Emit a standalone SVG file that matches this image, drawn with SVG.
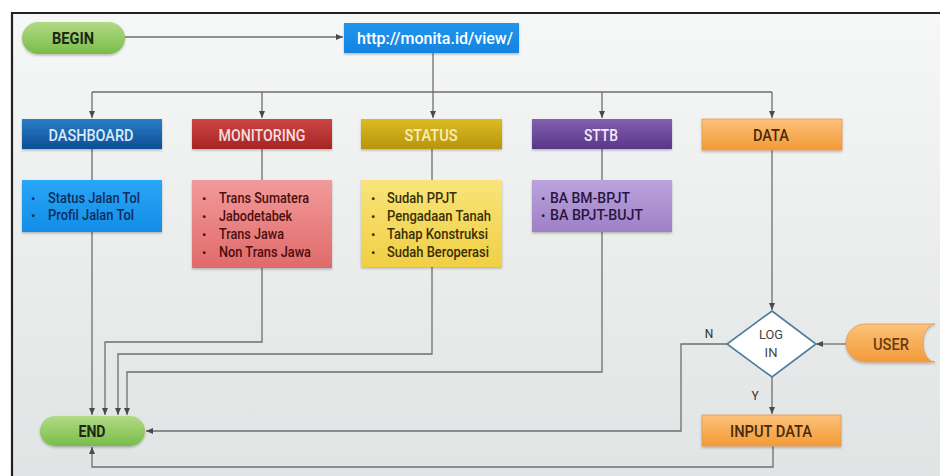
<svg xmlns="http://www.w3.org/2000/svg" width="940" height="476" viewBox="0 0 940 476">
<defs>
<linearGradient id="bg" x1="0" y1="0" x2="0" y2="1"><stop offset="0" stop-color="#f6f7f7"/><stop offset="1" stop-color="#e1e4e4"/></linearGradient>
<linearGradient id="gGreen" x1="0" y1="0" x2="0" y2="1"><stop offset="0" stop-color="#b2da86"/><stop offset="1" stop-color="#78bd48"/></linearGradient>
<linearGradient id="gBlueH" x1="0" y1="0" x2="0" y2="1"><stop offset="0" stop-color="#2a7cc6"/><stop offset="1" stop-color="#0c4f95"/></linearGradient>
<linearGradient id="gBlueL" x1="0" y1="0" x2="0" y2="1"><stop offset="0" stop-color="#2aa6f7"/><stop offset="1" stop-color="#138de6"/></linearGradient>
<linearGradient id="gRedH" x1="0" y1="0" x2="0" y2="1"><stop offset="0" stop-color="#cf4545"/><stop offset="1" stop-color="#a52525"/></linearGradient>
<linearGradient id="gRedL" x1="0" y1="0" x2="0" y2="1"><stop offset="0" stop-color="#f29a9a"/><stop offset="1" stop-color="#e06a6a"/></linearGradient>
<linearGradient id="gYelH" x1="0" y1="0" x2="0" y2="1"><stop offset="0" stop-color="#dbbb25"/><stop offset="1" stop-color="#b8950b"/></linearGradient>
<linearGradient id="gYelL" x1="0" y1="0" x2="0" y2="1"><stop offset="0" stop-color="#f8e47a"/><stop offset="1" stop-color="#f1cf45"/></linearGradient>
<linearGradient id="gPurH" x1="0" y1="0" x2="0" y2="1"><stop offset="0" stop-color="#8360b0"/><stop offset="1" stop-color="#583688"/></linearGradient>
<linearGradient id="gPurL" x1="0" y1="0" x2="0" y2="1"><stop offset="0" stop-color="#bca3de"/><stop offset="1" stop-color="#9e80c6"/></linearGradient>
<linearGradient id="gOr" x1="0" y1="0" x2="0" y2="1"><stop offset="0" stop-color="#fcc27a"/><stop offset="1" stop-color="#f39a38"/></linearGradient>
<linearGradient id="gUrl" x1="0" y1="0" x2="0" y2="1"><stop offset="0" stop-color="#2196ee"/><stop offset="1" stop-color="#1383e0"/></linearGradient>
<filter id="sh" x="-10%" y="-20%" width="120%" height="150%"><feDropShadow dx="0" dy="1.5" stdDeviation="1.2" flood-color="#000" flood-opacity="0.25"/></filter>
<marker id="ah" markerWidth="8" markerHeight="8" refX="7" refY="4" orient="auto" markerUnits="userSpaceOnUse"><path d="M0,1 L7,4 L0,7 Z" fill="#4a4a4a"/></marker>
<style>
.ln{fill:none;stroke:#6e6e6e;stroke-width:1.3}
.t{font-family:Roboto,"Liberation Sans",sans-serif}
.hd{font-size:16px;font-weight:500;text-anchor:middle}
.li{font-size:14.5px;font-weight:500}
.bul{font-size:13px}
</style>
</defs>
<rect x="0" y="0" width="940" height="476" fill="#ffffff"/>
<rect x="12" y="12" width="928" height="464" fill="url(#bg)"/>
<path d="M12,476 V13 H940" fill="none" stroke="#222" stroke-width="2.2"/>

<g id="connectors">
<path class="ln" d="M125,37 H343" marker-end="url(#ah)"/>
<path class="ln" d="M433,53 V118" marker-end="url(#ah)"/>
<path class="ln" d="M92,92 H772"/>
<path class="ln" d="M92,92 V118" marker-end="url(#ah)"/>
<path class="ln" d="M262,92 V118" marker-end="url(#ah)"/>
<path class="ln" d="M602,92 V118" marker-end="url(#ah)"/>
<path class="ln" d="M772,92 V118" marker-end="url(#ah)"/>
<path class="ln" d="M92,149 V180 M262,149 V180 M432,149 V180 M602,149 V180"/>
<path class="ln" d="M92,232 V415" marker-end="url(#ah)"/>
<path class="ln" d="M262,268 V342 H105 V415" marker-end="url(#ah)"/>
<path class="ln" d="M432,267 V354 H118 V415" marker-end="url(#ah)"/>
<path class="ln" d="M602,232 V372 H127 V415" marker-end="url(#ah)"/>
<path class="ln" d="M772,150 V310" marker-end="url(#ah)"/>
<path class="ln" d="M846,344 H816" marker-end="url(#ah)"/>
<path class="ln" d="M727,344 H681 V431 H146" marker-end="url(#ah)"/>
<path class="ln" d="M772,377 V414" marker-end="url(#ah)"/>
<path class="ln" d="M773,446 V467 H92 V447" marker-end="url(#ah)"/>
<text class="t" x="709" y="338" font-size="12" fill="#333" text-anchor="middle">N</text>
<text class="t" x="755" y="400" font-size="12" fill="#333" text-anchor="middle">Y</text>
</g>

<g id="begin">
<rect x="22" y="22" width="103" height="32" rx="16" fill="url(#gGreen)" filter="url(#sh)"/>
<text class="t" x="73" y="43.5" font-size="17" font-weight="700" fill="#1c2a14" text-anchor="middle" textLength="42" lengthAdjust="spacingAndGlyphs">BEGIN</text>
</g>

<g id="url">
<rect x="344" y="23" width="175" height="30" fill="url(#gUrl)" filter="url(#sh)"/>
<text class="t" x="435" y="44" font-size="17" font-weight="500" fill="#fff" text-anchor="middle" textLength="156" lengthAdjust="spacingAndGlyphs">http://monita.id/view/</text>
</g>

<g id="dashboard">
<rect x="22" y="119" width="140" height="30" fill="url(#gBlueH)" filter="url(#sh)"/>
<text class="t hd" x="91" y="141" fill="#dde9f6" textLength="85" lengthAdjust="spacingAndGlyphs">DASHBOARD</text>
</g>
<g id="dashboard-list">
<rect x="22" y="180" width="140" height="52" fill="url(#gBlueL)" filter="url(#sh)"/>
<g class="t" fill="#0f2c5c">
<text class="bul" x="31" y="203">•</text><text class="li" x="48" y="203" textLength="92" lengthAdjust="spacingAndGlyphs">Status Jalan Tol</text>
<text class="bul" x="31" y="220">•</text><text class="li" x="48" y="220" textLength="86" lengthAdjust="spacingAndGlyphs">Profil Jalan Tol</text>
</g>
</g>

<g id="monitoring">
<rect x="192" y="119" width="140" height="30" fill="url(#gRedH)" filter="url(#sh)"/>
<text class="t hd" x="262" y="141" fill="#f7dede" textLength="87" lengthAdjust="spacingAndGlyphs">MONITORING</text>
</g>
<g id="monitoring-list">
<rect x="192" y="180" width="140" height="88" fill="url(#gRedL)" filter="url(#sh)"/>
<g class="t" fill="#4a0e0e">
<text class="bul" x="202" y="203">•</text><text class="li" x="219" y="203" textLength="90" lengthAdjust="spacingAndGlyphs">Trans Sumatera</text>
<text class="bul" x="202" y="221">•</text><text class="li" x="219" y="221" textLength="73" lengthAdjust="spacingAndGlyphs">Jabodetabek</text>
<text class="bul" x="202" y="239">•</text><text class="li" x="219" y="239" textLength="65" lengthAdjust="spacingAndGlyphs">Trans Jawa</text>
<text class="bul" x="202" y="257">•</text><text class="li" x="219" y="257" textLength="92" lengthAdjust="spacingAndGlyphs">Non Trans Jawa</text>
</g>
</g>

<g id="status">
<rect x="361" y="119" width="141" height="30" fill="url(#gYelH)" filter="url(#sh)"/>
<text class="t hd" x="431" y="141" fill="#f7eeb8" textLength="53" lengthAdjust="spacingAndGlyphs">STATUS</text>
</g>
<g id="status-list">
<rect x="361" y="180" width="141" height="87" fill="url(#gYelL)" filter="url(#sh)"/>
<g class="t" fill="#3a2e05">
<text class="bul" x="371" y="203">•</text><text class="li" x="387" y="203" textLength="70" lengthAdjust="spacingAndGlyphs">Sudah PPJT</text>
<text class="bul" x="371" y="221">•</text><text class="li" x="387" y="221" textLength="104" lengthAdjust="spacingAndGlyphs">Pengadaan Tanah</text>
<text class="bul" x="371" y="239">•</text><text class="li" x="387" y="239" textLength="101" lengthAdjust="spacingAndGlyphs">Tahap Konstruksi</text>
<text class="bul" x="371" y="257">•</text><text class="li" x="387" y="257" textLength="102" lengthAdjust="spacingAndGlyphs">Sudah Beroperasi</text>
</g>
</g>

<g id="sttb">
<rect x="532" y="119" width="140" height="30" fill="url(#gPurH)" filter="url(#sh)"/>
<text class="t hd" x="601" y="141" fill="#f1eaf8" textLength="34" lengthAdjust="spacingAndGlyphs">STTB</text>
</g>
<g id="sttb-list">
<rect x="532" y="180" width="140" height="52" fill="url(#gPurL)" filter="url(#sh)"/>
<g class="t" fill="#26163f">
<text class="bul" x="541" y="203">•</text><text class="li" x="550" y="203" textLength="80" lengthAdjust="spacingAndGlyphs">BA BM-BPJT</text>
<text class="bul" x="541" y="220">•</text><text class="li" x="550" y="220" textLength="93" lengthAdjust="spacingAndGlyphs">BA BPJT-BUJT</text>
</g>
</g>

<g id="data">
<rect x="702" y="119" width="140" height="31" fill="url(#gOr)" stroke="#e39a55" stroke-width="0.8" filter="url(#sh)"/>
<text class="t hd" x="771" y="141" fill="#4a2a0c" textLength="36" lengthAdjust="spacingAndGlyphs">DATA</text>
</g>

<g id="login">
<path d="M772,311 L816,344 L772,377 L727,344 Z" fill="#ffffff" stroke="#4f7c99" stroke-width="1.6"/>
<text class="t" x="771" y="339" font-size="13" fill="#444" text-anchor="middle" textLength="24" lengthAdjust="spacingAndGlyphs">LOG</text>
<text class="t" x="771" y="357" font-size="13" fill="#444" text-anchor="middle">IN</text>
</g>

<g id="user">
<path d="M865,324 H935 A12,19 0 0 0 935,362 H865 A19,19 0 0 1 865,324 Z" fill="url(#gOr)" stroke="#e39a55" stroke-width="0.8" filter="url(#sh)"/>
<text class="t" x="891" y="350" font-size="16" font-weight="500" fill="#6a3a12" text-anchor="middle" textLength="36" lengthAdjust="spacingAndGlyphs">USER</text>
</g>

<g id="input-data">
<rect x="702" y="415" width="139" height="31" fill="url(#gOr)" stroke="#e39a55" stroke-width="0.8" filter="url(#sh)"/>
<text class="t" x="771" y="437" font-size="16" font-weight="500" fill="#4a2a0c" text-anchor="middle" textLength="82" lengthAdjust="spacingAndGlyphs">INPUT DATA</text>
</g>

<g id="end">
<rect x="40" y="416" width="105" height="30" rx="15" fill="url(#gGreen)" filter="url(#sh)"/>
<text class="t" x="92" y="437" font-size="16" font-weight="700" fill="#1c2a14" text-anchor="middle" textLength="27" lengthAdjust="spacingAndGlyphs">END</text>
</g>
</svg>
